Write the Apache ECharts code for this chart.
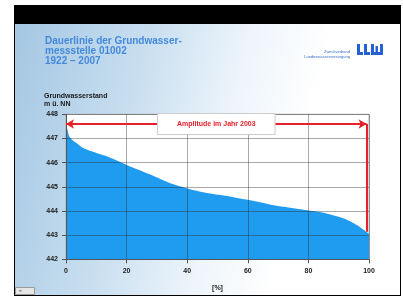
<!DOCTYPE html>
<html>
<head>
<meta charset="utf-8">
<script src="https://cdn.jsdelivr.net/npm/echarts@6/dist/echarts.min.js"></script>
<style>html,body{margin:0;padding:0;background:#fff}#c{width:403px;height:297px}</style>
</head>
<body>
<div id="c"></div>
<script>
// Data
var pct   = [0, 0.5, 1, 2, 3, 5, 7, 10, 13, 18, 22, 28, 34, 41, 47, 54, 60, 68, 79, 86, 92, 96, 99, 100];
var level = [447.7, 447.35, 447.1, 446.95, 446.85, 446.66, 446.53, 446.4, 446.28, 446.02, 445.8, 445.5, 445.17, 444.9, 444.73, 444.6, 444.46, 444.25, 444.04, 443.9, 443.68, 443.42, 443.15, 443.05];
var xTicks = [0, 20, 40, 60, 80, 100];
var yTicks = [442, 443, 444, 445, 446, 447, 448];
var amplitudeLevel = 447.6;
var amplitudeEnd = 99.2;
var amplitudeLow = 443.14;
var titleText = 'Dauerlinie der Grundwasser-\nmessstelle 01002\n1922 – 2007';
var yName = 'Grundwasserstand\nm ü. NN';
var xName = '[%]';
var amplitudeLabel = 'Amplitude im Jahr 2003';

var data = pct.map(function (p, i) { return [p, level[i]]; });
var chart = echarts.init(document.getElementById('c'), null, {renderer: 'canvas'});
var red = '#e8202a';
var logoBlue = '#2461d2';
chart.setOption({
  animation: false,
  backgroundColor: '#ffffff',
  textStyle: {fontFamily: 'Liberation Sans'},
  graphic: [
    {type: 'rect', z: -10, shape: {x: 14, y: 5, width: 386, height: 291},
     style: {fill: new echarts.graphic.LinearGradient(0, 0, 1, 0.3, [
       {offset: 0, color: '#a3c6e2'}, {offset: 0.35, color: '#c9dff0'},
       {offset: 0.6, color: '#eef5fb'}, {offset: 0.8, color: '#ffffff'}, {offset: 1, color: '#ffffff'}])}},
    {type: 'rect', z: -9, shape: {x: 14, y: 5, width: 386, height: 19}, style: {fill: '#000'}},
    {type: 'line', z: 10, shape: {x1: 14.5, y1: 5, x2: 14.5, y2: 296}, style: {stroke: '#000', lineWidth: 1}},
    {type: 'line', z: 10, shape: {x1: 400.5, y1: 5, x2: 400.5, y2: 296}, style: {stroke: '#000', lineWidth: 1}},
    {type: 'line', z: 10, shape: {x1: 14, y1: 295.5, x2: 401, y2: 295.5}, style: {stroke: '#000', lineWidth: 1}},
    // logo text
    {type: 'text', z: 5, style: {x: 350, y: 50, text: 'Zweckverband', fontSize: 4, fill: '#3a6fc0', align: 'right', fontFamily: 'Liberation Sans'}},
    {type: 'text', z: 5, style: {x: 350, y: 55, text: 'Landeswasserversorgung', fontSize: 4, fill: '#3a6fc0', align: 'right', fontFamily: 'Liberation Sans'}},
    // logo shapes (L L W)
    {type: 'group', z: 5, children: [
      {type: 'rect', shape: {x: 357, y: 44, width: 3, height: 11}, style: {fill: logoBlue}},
      {type: 'rect', shape: {x: 357, y: 52, width: 6, height: 3}, style: {fill: logoBlue}},
      {type: 'rect', shape: {x: 364, y: 44, width: 3, height: 11}, style: {fill: logoBlue}},
      {type: 'rect', shape: {x: 364, y: 52, width: 6, height: 3}, style: {fill: logoBlue}},
      {type: 'rect', shape: {x: 371, y: 44, width: 3, height: 11}, style: {fill: logoBlue}},
      {type: 'rect', shape: {x: 375.5, y: 46, width: 2.5, height: 9}, style: {fill: logoBlue}},
      {type: 'rect', shape: {x: 371, y: 52, width: 12, height: 3}, style: {fill: logoBlue}},
      {type: 'rect', shape: {x: 380, y: 44, width: 3, height: 11}, style: {fill: logoBlue}}
    ]},
    // y axis name
    {type: 'text', z: 5, style: {x: 44, y: 92, text: yName, fontSize: 7, fontWeight: 'bold', fill: '#1a1a1a', lineHeight: 8, fontFamily: 'Liberation Sans'}},
    // small button
    {type: 'rect', z: 5, shape: {x: 15.5, y: 287.5, width: 19, height: 7}, style: {fill: '#e6e6e6', stroke: '#9a9a9a', lineWidth: 1}},
    {type: 'text', z: 6, style: {x: 19, y: 288, text: '«', fontSize: 5, fill: '#555', fontFamily: 'Liberation Sans'}}
  ],
  title: {
    text: titleText, left: 40, top: 31,
    textStyle: {color: '#4489dc', fontSize: 10, fontWeight: 'bold', lineHeight: 10, fontFamily: 'Liberation Sans'}
  },
  grid: {left: 66, right: 34, top: 114.3, bottom: 37.7, show: true, backgroundColor: '#ffffff', borderColor: '#b0b0b0', borderWidth: 1},
  xAxis: {
    type: 'value', min: 0, max: 100, interval: 20, z: 3,
    name: xName, nameLocation: 'middle', nameGap: 25,
    nameTextStyle: {fontSize: 7, fontWeight: 'bold', color: '#222'},
    axisLine: {show: true, lineStyle: {color: '#555', width: 1}},
    axisTick: {show: true, length: 4, lineStyle: {color: '#555'}},
    axisLabel: {fontSize: 7, fontWeight: 'bold', color: '#222', margin: 8,
      formatter: function (v) { return xTicks.indexOf(v) >= 0 ? String(v) : ''; }},
    splitLine: {show: true, lineStyle: {color: 'rgba(40,40,40,0.4)', width: 1}}
  },
  yAxis: {
    type: 'value', min: 442, max: 448, interval: 1, z: 3,
    axisLine: {show: true, lineStyle: {color: '#555', width: 1}},
    axisTick: {show: true, length: 4, lineStyle: {color: '#555'}},
    axisLabel: {fontSize: 7, fontWeight: 'bold', color: '#222', margin: 8,
      formatter: function (v) { return yTicks.indexOf(v) >= 0 ? String(v) : ''; }},
    splitLine: {show: true, lineStyle: {color: 'rgba(40,40,40,0.4)', width: 1}}
  },
  series: [{
    type: 'line', data: data, smooth: 0.2, symbol: 'none', z: 2,
    lineStyle: {width: 0, color: '#1f9bf0'},
    areaStyle: {color: '#1f9bf0', opacity: 1, origin: 'start'},
    markLine: {
      silent: true, z: 10, animation: false,
      data: [
        [{coord: [0, amplitudeLevel], symbol: 'arrow', symbolSize: [7, 8], symbolRotate: 90},
         {coord: [amplitudeEnd, amplitudeLevel], symbol: 'arrow', symbolSize: [7, 8], symbolRotate: -90,
          label: {show: true, position: 'middle', formatter: amplitudeLabel,
            color: red, fontSize: 7, fontWeight: 'bold', backgroundColor: '#ffffff',
            borderColor: '#cccccc', borderWidth: 1, padding: [7, 19, 6, 19], distance: -10}}],
        [{coord: [amplitudeEnd, amplitudeLevel], symbol: 'none'},
         {coord: [amplitudeEnd, amplitudeLow], symbol: 'none', label: {show: false}}]
      ],
      lineStyle: {color: red, width: 2, type: 'solid'}
    }
  }]
});
</script>
</body>
</html>
